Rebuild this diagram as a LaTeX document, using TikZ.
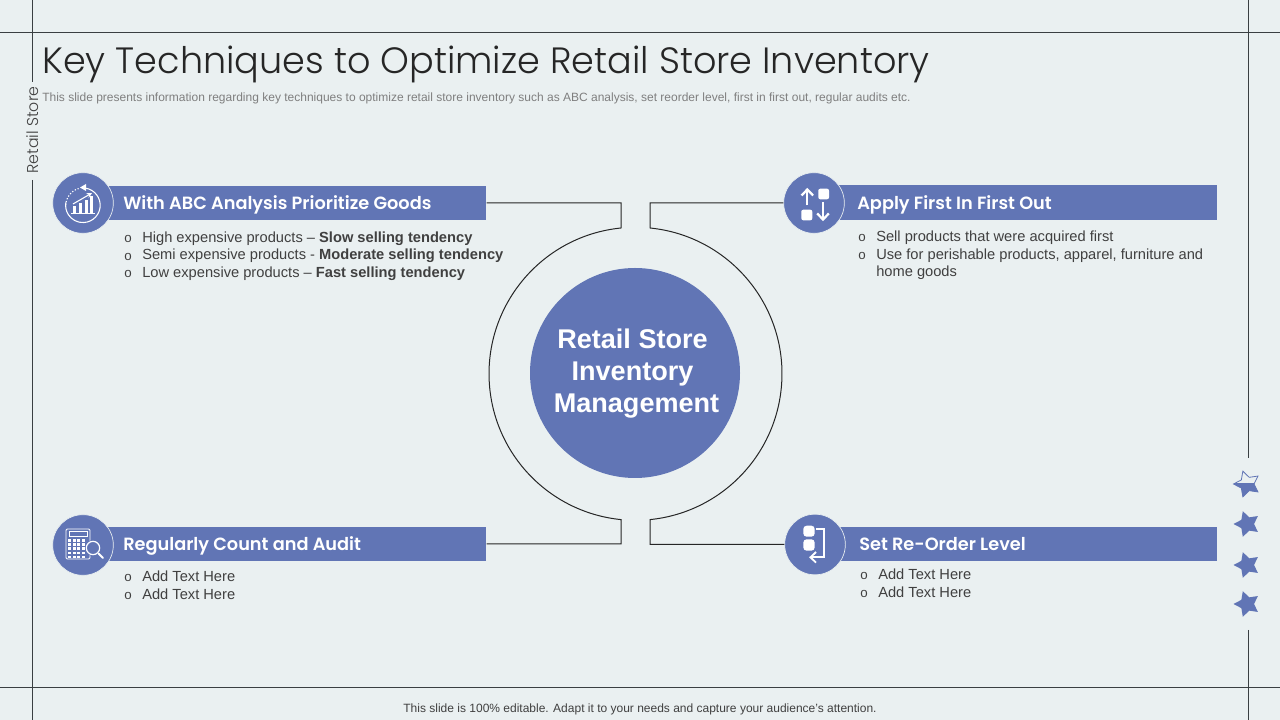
\documentclass[tikz,border=0pt]{standalone}
\usepackage{fontspec}
\setmainfont{Liberation Sans}
\newfontfamily\headfont{Poppins}[UprightFont=* SemiBold]
\newfontfamily\titlefont{Poppins}[UprightFont=* Light]
\usetikzlibrary{shapes.geometric,arrows.meta}
\definecolor{bgc}{HTML}{EAF0F1}
\definecolor{accent}{HTML}{6175B5}
\definecolor{linec}{HTML}{3A3F42}
\definecolor{bodyc}{HTML}{404040}
\definecolor{subc}{HTML}{7F7F7F}
\tikzset{
 x=.75pt,y=.75pt,
 frameline/.style={draw=linec,line width=.75pt},
 ringline/.style={draw=black!85,line width=.75pt},
 banner/.style={fill=accent,draw=none,inner sep=0,minimum height=25.5pt,anchor=west},
 iconbg/.style={circle,fill=accent,draw=bgc,line width=.5pt,minimum size=45.5pt,inner sep=0},
 bannertxt/.style={inner sep=0,anchor=base west,text=white,font=\headfont\fontsize{13.3}{14}\selectfont},
 bodytxt/.style={inner sep=0,anchor=base west,text=bodyc,font=\fontsize{11}{13.2}\selectfont},
 bul/.style={inner sep=0,anchor=center,text=bodyc,font=\fontsize{10}{10}\selectfont},
 icl/.style={draw=white,line width=1.4pt},
}
\begin{document}
\begin{tikzpicture}
\useasboundingbox (0,0) rectangle (1280,720);
\fill[bgc] (0,0) rectangle (1280,720);
% frame
\draw[frameline] (0,687.5)--(1280,687.5);
\draw[frameline] (0,32.5)--(1280,32.5);
\draw[frameline] (32.5,720)--(32.5,638);
\draw[frameline] (32.5,540)--(32.5,0);
\draw[frameline] (1248.5,720)--(1248.5,262);
\draw[frameline] (1248.5,90)--(1248.5,0);
% title
\node[inner sep=0,anchor=base west,text=black!85,font=\titlefont\fontsize{27.45}{28}\selectfont] (title) at (42,646) {Key Techniques to Optimize Retail Store Inventory};
\node[inner sep=0,anchor=base west,text=subc,font=\fontsize{9}{9}\selectfont] (subtitle) at (42,618.5) {This slide presents information regarding key techniques to optimize retail store inventory such as ABC analysis, set reorder level, first in first out, regular audits etc.};
\node[inner sep=0,rotate=90,text=bodyc,font=\titlefont\fontsize{11.8}{11.8}\selectfont] (side) at (33,590) {Retail Store};
\node[inner sep=0,anchor=base,text=bodyc,font=\fontsize{9}{9}\selectfont] (footer) at (640,7.5) {This slide is 100\% editable. Adapt it to your needs and capture your audience's attention.};
% banners
\node[banner,minimum width=289.5pt] (b1) at (100,517) {};
\node[banner,minimum width=290.25pt,minimum height=26.25pt] (b2) at (830,517.5) {};
\node[banner,minimum width=289.5pt] (b3) at (100,176) {};
\node[banner,minimum width=290.25pt] (b4) at (830,176) {};
% icon circles
\node[iconbg] (c1) at (83,517) {};
\node[iconbg] (c2) at (814,517) {};
\node[iconbg] (c3) at (83,175) {};
\node[iconbg] (c4) at (815,175.5) {};
% hub
\node[circle,fill=accent,minimum size=157.5pt,inner sep=0] (hub) at (635,347) {};
\node[inner sep=0,align=center,text=white,font=\bfseries\fontsize{20.3}{24}\selectfont] (hubt) at (632.5,346.5) {Retail Store\\Inventory\\\hspace*{6pt}Management};
% ring + connectors
\draw[ringline] (b1.east) -- (621,517) -- (621,492) arc[start angle=95.7,end angle=264.3,radius=109.9pt] -- (621,176) -- (b3.east);
\draw[ringline] (c2.west) -- (650,517) -- (650,492) arc[start angle=84.3,end angle=-84.3,radius=109.9pt] -- (650,175.5) -- (c4.west);
% banner text
\node[bannertxt] (t1) at (123,510.5) {With ABC Analysis Prioritize Goods};
\node[bannertxt] (t2) at (857,510.5) {Apply First In First Out};
\node[bannertxt] (t3) at (123,169) {Regularly Count and Audit};
\node[bannertxt] (t4) at (859,169) {Set Re-Order Level};
% bullets TL
\node[bul] (o11) at (128,481) {o};
\node[bul] (o12) at (128,463.5) {o};
\node[bul] (o13) at (128,446) {o};
\node[bodytxt] (l11) at (142,477.5) {High expensive products – \textbf{Slow selling tendency}};
\node[bodytxt] (l12) at (142,460) {Semi expensive products - \textbf{Moderate selling tendency}};
\node[bodytxt] (l13) at (142,442.5) {Low expensive products – \textbf{Fast selling tendency}};
% bullets TR
\node[bul] (o21) at (862,482) {o};
\node[bul] (o22) at (862,464) {o};
\node[bodytxt] (l21) at (876,478.5) {Sell products that were acquired first};
\node[bodytxt] (l22) at (876,460.5) {Use for perishable products, apparel, furniture and};
\node[bodytxt] (l23) at (876,443.5) {home goods};
% bullets BL
\node[bul] (o31) at (128,142) {o};
\node[bul] (o32) at (128,124) {o};
\node[bodytxt] (l31) at (142,138.5) {Add Text Here};
\node[bodytxt] (l32) at (142,120.5) {Add Text Here};
% bullets BR
\node[bul] (o41) at (864,144) {o};
\node[bul] (o42) at (864,126) {o};
\node[bodytxt] (l41) at (878,140.5) {Add Text Here};
\node[bodytxt] (l42) at (878,122.5) {Add Text Here};
% icon 1
\begin{scope}[shift={(83,517)}]
\draw[white,line width=.8pt] (-1,15) arc[start angle=93,end angle=-190,radius=17.3*.75pt];
\draw[white,line width=.8pt,dash pattern=on 1pt off 1.3pt] (-17.2,-2.3) arc[start angle=180,end angle=105,radius=17.3*.75pt];
\fill[white] (-3,15.5) -- (3,19) -- (3,12) -- cycle;
\fill[white] (-10,-10) rectangle (-7.3,-3.3);
\fill[white] (-4,-10) rectangle (-1.3,0);
\fill[white] (2,-10) rectangle (4.7,3.3);
\fill[white] (7,-10) rectangle (9.7,6.7);
\draw[white,line width=.8pt] (-12,-10.5) -- (12,-10.5);
\draw[white,line width=.8pt,-{Stealth[length=4pt,width=4pt]}] (-10,-1) -- (9,10);
\end{scope}
% icon 2
\begin{scope}[shift={(814,517)}]
\fill[white,rounded corners=1.5pt] (4.3,14.3) rectangle (15,3.7);
\fill[white,rounded corners=1.5pt] (-12.7,-6.7) rectangle (-1.7,-17.3);
\draw[icl,line width=1.7pt] (-6.7,-2.3) -- (-6.7,13);
\draw[icl,line width=1.7pt,line join=miter] (-12.5,7.5) -- (-6.7,13.5) -- (-0.9,7.5);
\draw[icl,line width=1.7pt] (9,1) -- (9,-16);
\draw[icl,line width=1.7pt,line join=miter] (3.2,-10.5) -- (9,-16.5) -- (14.8,-10.5);
\end{scope}
% icon 3
\begin{scope}[shift={(83,175)}]
\draw[white,line width=.7pt,rounded corners=1pt] (-17,16) rectangle (7,-14);
\draw[white,line width=.7pt] (-14,14) rectangle (4,9);
\foreach \i in {0,1,2,3}{\foreach \j in {0,1,2,3,4}{
 \fill[white] ({-15+\i*4.6},{6-\j*4.2}) rectangle ({-12+\i*4.6},{3.3-\j*4.2});}}
\fill[accent] (10,-3) circle[radius=6pt];
\draw[white,line width=.9pt] (10,-3) circle[radius=5pt];
\draw[white,line width=1.4pt,line cap=round] (15.5,-8.5) -- (20,-13);
\end{scope}
% icon 4
\begin{scope}[shift={(815,175)}]
\fill[white,rounded corners=2.5pt] (-11.7,19.3) rectangle (-0.3,8.3);
\fill[white,rounded corners=2.5pt] (-11.7,5.7) rectangle (-0.3,-5.7);
\draw[icl,line join=miter] (1.3,16) -- (9,16) -- (9,-12.3) -- (-4,-12.3);
\draw[icl,line join=miter] (1,-7) -- (-4.5,-12.3) -- (1,-17.6);
\end{scope}
% stars
\begin{scope}
\clip (1230,220) rectangle (1265,236.7);
\fill[accent] (1247,236) +(180:13.5) -- +(144:7) -- +(108:13.5) -- +(72:7) -- +(36:13.5) -- +(0:7) -- +(-36:13.5) -- +(-72:7) -- +(-108:13.5) -- +(-144:7) -- cycle;
\end{scope}
\draw[accent,line width=.6pt] (1247,236) +(180:13.5) -- +(144:7) -- +(108:13.5) -- +(72:7) -- +(36:13.5) -- +(0:7) -- +(-36:13.5) -- +(-72:7) -- +(-108:13.5) -- +(-144:7) -- cycle;
\foreach \yy in {196,155,116}{
\fill[accent] (1247,\yy) +(180:13.5) -- +(144:7) -- +(108:13.5) -- +(72:7) -- +(36:13.5) -- +(0:7) -- +(-36:13.5) -- +(-72:7) -- +(-108:13.5) -- +(-144:7) -- cycle;}
\end{tikzpicture}
\end{document}
